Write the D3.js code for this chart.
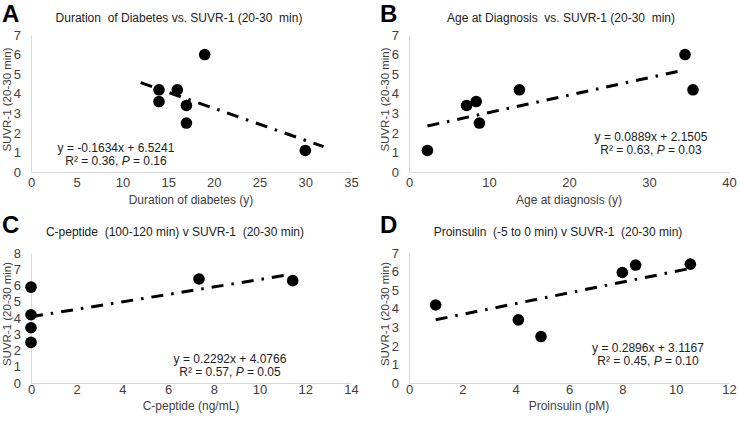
<!DOCTYPE html>
<html><head><meta charset="utf-8">
<script src="https://cdn.jsdelivr.net/npm/d3@7"></script>
<style>body{margin:0;background:#fff;} svg{display:block;font-family:"Liberation Sans",Arial,sans-serif;}</style>
</head><body>
<svg id="c" width="740" height="421"></svg>
<script>
// Panel A
const aX = [14, 14, 16, 17, 17, 19, 30];
const aY = [4.2, 3.6, 4.2, 3.4, 2.5, 6.0, 1.1];
const aFit = [-0.1634, 6.5241];
const aFitRange = [12, 32];
const aXTicks = [0, 5, 10, 15, 20, 25, 30, 35];
const aYTicks = [0, 1, 2, 3, 4, 5, 6, 7];
// Panel B
const bX = [2.3, 7.2, 8.4, 8.8, 13.8, 34.5, 35.5];
const bY = [1.1, 3.4, 3.6, 2.5, 4.2, 6.0, 4.2];
const bFit = [0.0889, 2.1505];
const bFitRange = [2.3, 34.5];
const bXTicks = [0, 10, 20, 30, 40];
const bYTicks = [0, 1, 2, 3, 4, 5, 6, 7];
// Panel C
const cX = [0, 0, 0, 0, 7.35, 11.45];
const cY = [5.9, 4.2, 3.4, 2.5, 6.4, 6.3];
const cFit = [0.2292, 4.0766];
const cFitRange = [0, 11.3];
const cXTicks = [0, 2, 4, 6, 8, 10, 12, 14];
const cYTicks = [0, 1, 2, 3, 4, 5, 6, 7, 8];
// Panel D
const dX = [1.0, 4.1, 4.95, 8.0, 8.5, 10.55];
const dY = [4.2, 3.4, 2.5, 5.95, 6.35, 6.4];
const dFit = [0.2896, 3.1167];
const dFitRange = [1.0, 10.5];
const dXTicks = [0, 2, 4, 6, 8, 10, 12];
const dYTicks = [0, 1, 2, 3, 4, 5, 6, 7];

const letters = ["A", "B", "C", "D"];
const titles = [
  "Duration  of Diabetes vs. SUVR-1 (20-30  min)",
  "Age at Diagnosis  vs. SUVR-1 (20-30  min)",
  "C-peptide  (100-120 min) v SUVR-1  (20-30 min)",
  "Proinsulin  (-5 to 0 min) v SUVR-1  (20-30 min)"
];
const xTitles = ["Duration of diabetes (y)", "Age at diagnosis (y)", "C-peptide (ng/mL)", "Proinsulin (pM)"];
const yTitle = "SUVR-1 (20-30 min)";
const eqLines = [
  ["y = -0.1634x + 6.5241", "0.36", "0.16"],
  ["y = 0.0889x + 2.1505", "0.63", "0.03"],
  ["y = 0.2292x + 4.0766", "0.57", "0.05"],
  ["y = 0.2896x + 3.1167", "0.45", "0.10"]
];

const svg = d3.select("#c");

const panels = [
  {ox: 0, oy: 0, xs: aX, ys: aY, fit: aFit, fr: aFitRange, xt: aXTicks, yt: aYTicks, eqx: 116, eqy: 152, tx: 179},
  {ox: 378, oy: 0, xs: bX, ys: bY, fit: bFit, fr: bFitRange, xt: bXTicks, yt: bYTicks, eqx: 273, eqy: 141, tx: 183},
  {ox: 0, oy: 211, xs: cX, ys: cY, fit: cFit, fr: cFitRange, xt: cXTicks, yt: cYTicks, eqx: 230, eqy: 152, tx: 175},
  {ox: 378, oy: 211, xs: dX, ys: dY, fit: dFit, fr: dFitRange, xt: dXTicks, yt: dYTicks, eqx: 270, eqy: 141, tx: 180}
];

panels.forEach((p, i) => {
  const top = i < 2;
  const g = svg.append("g").attr("transform", `translate(${p.ox},${p.oy})`);
  const x = d3.scaleLinear().domain([p.xt[0], p.xt[p.xt.length - 1]]).range([31, 351]);
  const yTop = top ? 35 : 42;
  const y = d3.scaleLinear().domain([p.yt[0], p.yt[p.yt.length - 1]]).range([172, yTop]);

  // panel letter
  g.append("text").attr("x", 2).attr("y", 22).attr("font-size", 24).attr("font-weight", "bold")
    .attr("fill", "#000").text(letters[i]);
  // title
  g.append("text").attr("x", p.tx).attr("y", top ? 22 : 25)
    .attr("text-anchor", "middle").attr("font-size", 12).attr("fill", "#222")
    .attr("xml:space", "preserve").style("white-space", "pre").text(titles[i]);

  // axes
  const xa = g.append("g").attr("transform", `translate(0,${y(0)})`)
    .call(d3.axisBottom(x).tickValues(p.xt).tickFormat(d3.format("d")).tickSize(0).tickPadding(top ? 6 : 2));
  const ya = g.append("g").attr("transform", `translate(${x(p.xt[0])},0)`)
    .call(d3.axisLeft(y).tickValues(p.yt).tickFormat(d3.format("d")).tickSize(0).tickPadding(10));
  [xa, ya].forEach(a => {
    a.select(".domain").attr("stroke", "#d9d9d9").attr("stroke-width", 1);
    a.selectAll("text").attr("font-size", 13).attr("fill", "#404040")
      .attr("font-family", "Liberation Sans, Arial, sans-serif");
  });

  // axis titles
  g.append("text").attr("x", 191).attr("y", top ? 204 : 199).attr("text-anchor", "middle")
    .attr("font-size", 12).attr("fill", "#404040").text(xTitles[i]);
  g.append("text").attr("transform", `translate(11,${(y(0) + yTop) / 2 - 4}) rotate(-90)`)
    .attr("text-anchor", "middle").attr("font-size", 11.5).attr("fill", "#404040").text(yTitle);

  // trendline
  const line = d3.line().x(d => x(d)).y(d => y(p.fit[0] * d + p.fit[1]));
  g.append("path").attr("d", line(p.fr)).attr("fill", "none").attr("stroke", "#000")
    .attr("stroke-width", 3).attr("stroke-dasharray", "12,8,2.5,8");

  // points
  g.selectAll("circle.pt").data(p.xs.map((v, k) => [v, p.ys[k]])).enter().append("circle")
    .attr("cx", d => x(d[0])).attr("cy", d => y(d[1])).attr("r", 5.8).attr("fill", "#000");

  // equation
  g.append("text").attr("x", p.eqx).attr("y", p.eqy).attr("text-anchor", "middle")
    .attr("font-size", 12).attr("fill", "#222").text(eqLines[i][0]);
  const t2 = g.append("text").attr("x", p.eqx).attr("y", p.eqy + 12.5).attr("text-anchor", "middle")
    .attr("font-size", 12).attr("fill", "#222");
  t2.append("tspan").text("R\u00B2 = " + eqLines[i][1] + ", ");
  t2.append("tspan").attr("font-style", "italic").text("P");
  t2.append("tspan").text(" = " + eqLines[i][2]);
});
</script>
</body></html>
